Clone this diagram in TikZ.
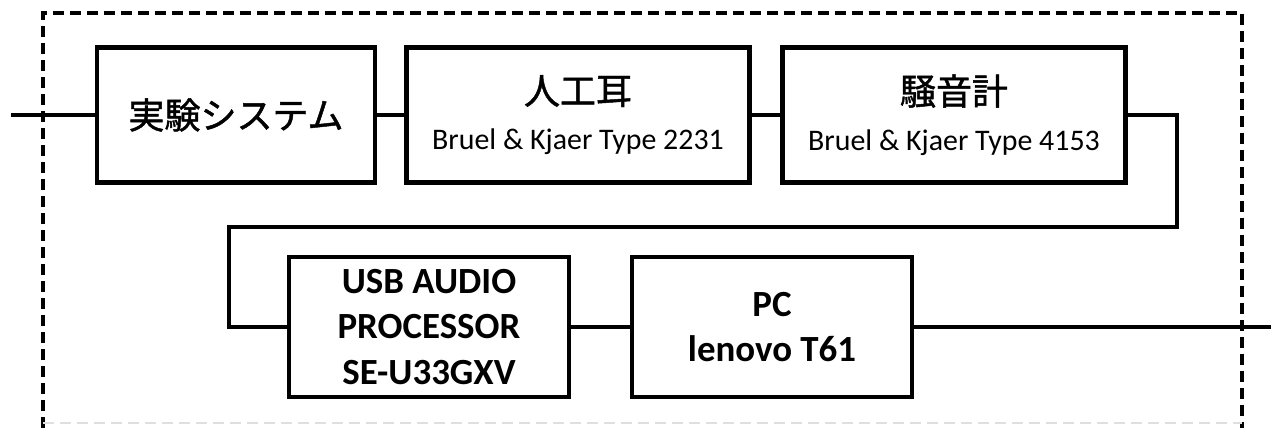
\documentclass[tikz,border=0pt]{standalone}
\usepackage{fontspec}
\setmainfont{Carlito}
\newfontfamily\jpfont[FakeBold=1.3]{Noto Sans CJK JP}
\usetikzlibrary{positioning}

\newcommand{\jptitle}[1]{{\jpfont\fontsize{20.5pt}{26pt}\selectfont #1}}

\tikzset{
  unitbox/.style={draw, line width=2.6pt, align=center, inner sep=0pt,
    minimum height=2.7cm},
  wire/.style={line width=2.6pt},
  subtext/.style={font=\fontsize{17pt}{26pt}\selectfont},
  boldtext/.style={font=\fontsize{21pt}{26pt}\selectfont\bfseries}
}

\begin{document}
\begin{tikzpicture}[x=0.02cm, y=-0.02cm]

\useasboundingbox (0,0) rectangle (1271,428);

% --- Cadre pointillé ---
\draw[line width=1.8pt, dash pattern=on 0.22cm off 0.12cm] (43,428) -- (43,13) -- (1242,13) -- (1242,428);
\draw[line width=1pt, gray!25, dash pattern=on 0.22cm off 0.12cm] (43,423) -- (1242,423);

% --- Première ligne ---
\node[unitbox, minimum width=5.56cm] (system) at (236,115) {\jptitle{実験システム}};
\node[unitbox, subtext, minimum width=6.86cm] (ear) at (578,115) {\jptitle{人工耳}\\Bruel \& Kjaer Type 2231};
\node[unitbox, subtext, minimum width=6.86cm] (meter) at (954,115) {\jptitle{騒音計}\\Bruel \& Kjaer Type 4153};

% --- Deuxième ligne ---
\node[unitbox, boldtext, minimum width=5.6cm, minimum height=2.8cm] (audio) at (429,327) {USB AUDIO\\PROCESSOR\\SE-U33GXV};
\node[unitbox, boldtext, minimum width=5.6cm, minimum height=2.8cm] (pc) at (772,327) {PC\\lenovo T61};

% --- Liaisons ---
\coordinate (in) at (11,115);
\coordinate (turnR) at (1177,227);
\coordinate (turnL) at (229,227);
\coordinate (out) at (1271,327);

\draw[wire] (in) -- (system.west);
\draw[wire] (system.east) -- (ear.west);
\draw[wire] (ear.east) -- (meter.west);
\draw[wire] (meter.east) -| (turnR) -- (turnL) |- (audio.west);
\draw[wire] (audio.east) -- (pc.west);
\draw[wire] (pc.east) -- (out);

\end{tikzpicture}
\end{document}
